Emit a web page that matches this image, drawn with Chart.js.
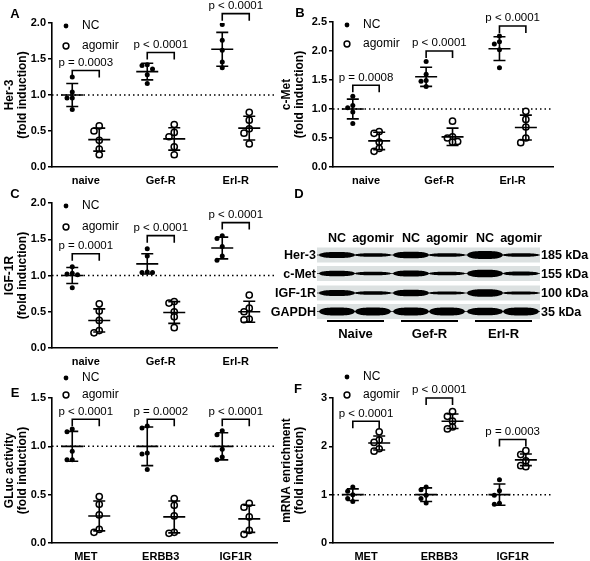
<!DOCTYPE html>
<html>
<head>
<meta charset="utf-8">
<script src="https://cdn.jsdelivr.net/npm/chart.js@4.4.1/dist/chart.umd.min.js"></script>
<style>
  body { margin: 0; background: #fff; }
  #fig { position: relative; width: 590px; height: 561px; overflow: hidden; font-family: "Liberation Sans", Arial, sans-serif; color: #000; }
  #fig canvas { position: absolute; }
  .t { position: absolute; font-weight: bold; white-space: nowrap; line-height: 1; }
  .c { transform: translate(-50%, -50%); }
  .r { transform: translate(-100%, -50%); }
  .l { transform: translate(0, -50%); }
  .letter { font-size: 13px; }
  .blot { font-size: 12.5px; }
  .uline { position: absolute; height: 2px; background: #000; }
</style>
</head>
<body>
<div id="fig">
  <canvas id="pA" width="295" height="190" style="left:0;top:0"></canvas>
  <canvas id="pB" width="320" height="190" style="left:270px;top:0"></canvas>
  <canvas id="pC" width="295" height="190" style="left:0;top:185px"></canvas>
  <canvas id="pE" width="295" height="191" style="left:0;top:370px"></canvas>
  <canvas id="pF" width="320" height="191" style="left:270px;top:370px"></canvas>
  <canvas id="blot" width="223" height="76" style="left:317px;top:246px"></canvas>

  <div class="t c letter" style="left:15px;top:13px">A</div>
  <div class="t c letter" style="left:300px;top:12px">B</div>
  <div class="t c letter" style="left:15px;top:193px">C</div>
  <div class="t c letter" style="left:299px;top:193px">D</div>
  <div class="t c letter" style="left:15px;top:392px">E</div>
  <div class="t c letter" style="left:298px;top:388px">F</div>
  <div id="blotText"></div>
</div>

<script>
const cellLines = ["naive", "Gef-R", "Erl-R"];
const genes = ["MET", "ERBB3", "IGF1R"];

// A - Her-3
const her3NC = [[1.25, 1.04, 0.96, 0.96, 0.80], [1.42, 1.41, 1.36, 1.28, 1.16], [1.98, 1.76, 1.62, 1.46, 1.38]];
const her3Ago = [[0.57, 0.50, 0.37, 0.25, 0.17], [0.59, 0.48, 0.42, 0.28, 0.17], [0.76, 0.65, 0.53, 0.47, 0.32]];
const her3MeanNC = [1.00, 1.325, 1.635];
const her3SdNC = [0.16, 0.115, 0.235];
const her3MeanAgo = [0.38, 0.39, 0.54];
const her3SdAgo = [0.16, 0.155, 0.165];
const her3Bracket = [1.34, 1.59, 2.13];
const her3P = ["p = 0.0003", "p < 0.0001", "p < 0.0001"];

// B - c-Met
const cmetNC = [[1.22, 1.06, 1.02, 0.95, 0.75], [1.82, 1.60, 1.49, 1.48, 1.39], [2.26, 2.16, 2.12, 2.02, 1.71]];
const cmetAgo = [[0.61, 0.58, 0.43, 0.32, 0.27], [0.79, 0.52, 0.50, 0.44, 0.43], [0.96, 0.82, 0.69, 0.50, 0.42]];
const cmetMeanNC = [1.00, 1.555, 2.04];
const cmetSdNC = [0.17, 0.165, 0.205];
const cmetMeanAgo = [0.45, 0.52, 0.68];
const cmetSdAgo = [0.15, 0.15, 0.215];
const cmetBracket = [1.41, 2.0, 2.43];
const cmetP = ["p = 0.0008", "p < 0.0001", "p < 0.0001"];

// C - IGF-1R
const igfNC = [[1.12, 1.03, 1.02, 1.01, 0.83], [1.37, 1.27, 1.05, 1.04, 1.04], [1.55, 1.51, 1.40, 1.27, 1.21]];
const igfAgo = [[0.61, 0.51, 0.38, 0.24, 0.21], [0.64, 0.62, 0.50, 0.43, 0.28], [0.73, 0.55, 0.50, 0.40, 0.39]];
const igfMeanNC = [1.00, 1.16, 1.38];
const igfSdNC = [0.11, 0.14, 0.15];
const igfMeanAgo = [0.38, 0.49, 0.50];
const igfSdAgo = [0.16, 0.15, 0.145];
const igfBracket = [1.30, 1.55, 1.73];
const igfP = ["p = 0.0001", "p < 0.0001", "p < 0.0001"];

// E - GLuc activity
const glucNC = [[1.18, 1.15, 0.95, 0.86, 0.86], [1.21, 1.19, 0.93, 0.92, 0.76], [1.16, 1.12, 0.97, 0.89, 0.86]];
const glucAgo = [[0.48, 0.40, 0.29, 0.14, 0.11], [0.46, 0.39, 0.28, 0.11, 0.10], [0.41, 0.37, 0.27, 0.13, 0.09]];
const glucMeanNC = [1.00, 1.00, 1.00];
const glucSdNC = [0.155, 0.20, 0.14];
const glucMeanAgo = [0.28, 0.27, 0.25];
const glucSdAgo = [0.155, 0.165, 0.14];
const glucBracket = [1.28, 1.28, 1.28];
const glucP = ["p < 0.0001", "p = 0.0002", "p < 0.0001"];

// F - mRNA enrichment
const mrnaNC = [[1.16, 1.07, 1.00, 0.92, 0.86], [1.16, 1.10, 0.99, 0.92, 0.83], [1.31, 1.08, 0.99, 0.82, 0.80]];
const mrnaAgo = [[2.30, 2.13, 2.08, 1.95, 1.90], [2.72, 2.62, 2.52, 2.40, 2.36], [1.91, 1.83, 1.70, 1.60, 1.58]];
const mrnaMeanNC = [1.00, 1.00, 1.00];
const mrnaSdNC = [0.12, 0.14, 0.22];
const mrnaMeanAgo = [2.07, 2.52, 1.72];
const mrnaSdAgo = [0.145, 0.15, 0.12];
const mrnaBracket = [2.52, 3.0, 2.14];
const mrnaP = ["p < 0.0001", "p < 0.0001", "p = 0.0003"];

// D - western blot
const blotRows = ["Her-3", "c-Met", "IGF-1R", "GAPDH"];
const blotSizes = ["185 kDa", "155 kDa", "100 kDa", "35 kDa"];
const blotLanes = ["NC", "agomir", "NC", "agomir", "NC", "agomir"];
const blotGroups = ["Naive", "Gef-R", "Erl-R"];
const bandHer3 = [6, 3.5, 6.5, 3.5, 8, 3.5];
const bandCmet = [5.5, 3.5, 6, 3.5, 7.5, 4];
const bandIgf = [6, 3.5, 6.5, 3, 7.5, 3];
const bandGapdh = [8, 8, 8, 8, 7.5, 8];

const FONT = '"Liberation Sans", Arial, sans-serif';
Chart.defaults.font.family = FONT;
Chart.defaults.color = "#000";
const OFF = 0.18;

function spread(vals, range) {
  const used = [];
  return vals.map(v => {
    for (const k of [0, -1, 1, -2, 2]) {
      if (!used.some(u => u.k === k && Math.abs(u.v - v) < range * 0.035)) {
        used.push({ v, k });
        return k * 0.07;
      }
    }
    return 0;
  });
}

function points(groups, side, range) {
  return groups.flatMap((vals, i) => {
    const jit = spread(vals, range);
    return vals.map((v, j) => ({ x: i + side + jit[j], y: v }));
  });
}

const marks = {
  id: "marks",
  beforeDatasetsDraw(chart) {
    const { ctx, chartArea: a, scales: { y } } = chart;
    const py = y.getPixelForValue(1);
    ctx.save();
    ctx.strokeStyle = "#000";
    ctx.lineWidth = 1.5;
    ctx.setLineDash([1.5, 3]);
    ctx.beginPath();
    ctx.moveTo(a.left, py);
    ctx.lineTo(a.right, py);
    ctx.stroke();
    ctx.restore();
  },
  afterDatasetsDraw(chart, args, o) {
    const { ctx, scales: { x, y } } = chart;
    ctx.save();
    ctx.strokeStyle = "#000";
    ctx.fillStyle = "#000";
    ctx.lineWidth = 1.6;
    const bar = (cx, m, s) => {
      const px = x.getPixelForValue(cx);
      const pm = y.getPixelForValue(m);
      const pt = y.getPixelForValue(m + s);
      const pb = y.getPixelForValue(m - s);
      ctx.beginPath();
      ctx.moveTo(px - 11, pm); ctx.lineTo(px + 11, pm);
      ctx.moveTo(px, pt); ctx.lineTo(px, pb);
      ctx.moveTo(px - 6, pt); ctx.lineTo(px + 6, pt);
      ctx.moveTo(px - 6, pb); ctx.lineTo(px + 6, pb);
      ctx.stroke();
    };
    o.meanNC.forEach((m, i) => bar(i - OFF, m, o.sdNC[i]));
    o.meanAgo.forEach((m, i) => bar(i + OFF, m, o.sdAgo[i]));

    ctx.font = "11.5px " + FONT;
    ctx.textAlign = "center";
    ctx.textBaseline = "bottom";
    o.bracket.forEach((b, i) => {
      const x1 = x.getPixelForValue(i - OFF);
      const x2 = x.getPixelForValue(i + OFF);
      const py = y.getPixelForValue(b);
      ctx.beginPath();
      ctx.moveTo(x1, py + 7); ctx.lineTo(x1, py); ctx.lineTo(x2, py); ctx.lineTo(x2, py + 7);
      ctx.stroke();
      ctx.fillText(o.pText[i], (x1 + x2) / 2, py - 2);
    });

    // legend
    const lg = o.legend;
    ctx.beginPath();
    ctx.arc(lg.x, lg.y1, 2.4, 0, Math.PI * 2);
    ctx.fill();
    ctx.lineWidth = 1.5;
    ctx.beginPath();
    ctx.arc(lg.x, lg.y2, 2.9, 0, Math.PI * 2);
    ctx.stroke();
    ctx.font = "12px " + FONT;
    ctx.textAlign = "left";
    ctx.textBaseline = "middle";
    ctx.fillText("NC", lg.x + 16, lg.y1);
    ctx.fillText("agomir", lg.x + 16, lg.y2);
    ctx.restore();
  }
};

function panel(id, p) {
  const cv = document.getElementById(id);
  const W = cv.width, H = cv.height;
  new Chart(cv, {
    type: "scatter",
    data: {
      datasets: [
        {
          label: "NC",
          data: points(p.nc, -OFF, p.max),
          pointRadius: 2.5,
          pointBackgroundColor: "#000",
          pointBorderWidth: 0
        },
        {
          label: "agomir",
          data: points(p.ago, OFF, p.max),
          pointRadius: 3.1,
          pointBackgroundColor: "#fff",
          pointBorderColor: "#000",
          pointBorderWidth: 1.5
        }
      ]
    },
    options: {
      responsive: false,
      animation: false,
      devicePixelRatio: 1,
      layout: { padding: { left: 0, top: p.area.T, right: W - p.area.R, bottom: 0 } },
      plugins: {
        legend: { display: false },
        tooltip: { enabled: false },
        marks: {
          meanNC: p.meanNC, sdNC: p.sdNC, meanAgo: p.meanAgo, sdAgo: p.sdAgo,
          bracket: p.bracket, pText: p.pText, legend: p.legend
        }
      },
      scales: {
        x: {
          type: "linear",
          min: -0.45,
          max: 2.55,
          afterBuildTicks: s => { s.ticks = p.labels.map((l, i) => ({ value: i })); },
          afterFit: s => { s.height = H - p.area.B; },
          grid: { display: false, drawTicks: false },
          border: { display: true, color: "#000", width: 1.6 },
          ticks: {
            autoSkip: false,
            maxRotation: 0,
            padding: 7,
            font: { size: 11, weight: "bold" },
            callback: (v, i) => p.labels[i]
          }
        },
        y: {
          min: 0,
          max: p.max,
          afterFit: s => { s.width = p.area.L; },
          grid: { display: true, drawOnChartArea: false, drawTicks: true, tickLength: 4, color: "#000", lineWidth: 1.5 },
          border: { display: true, color: "#000", width: 1.6 },
          ticks: {
            stepSize: p.step,
            padding: 2,
            font: { size: 11, weight: "bold" },
            callback: v => v.toFixed(p.dec)
          },
          title: {
            display: true,
            text: p.title,
            font: { size: 12, weight: "bold", lineHeight: 1.08 },
            padding: { top: p.titlePad, bottom: 0 }
          }
        }
      }
    },
    plugins: [marks]
  });
}

panel("pA", {
  labels: cellLines, nc: her3NC, ago: her3Ago, meanNC: her3MeanNC, sdNC: her3SdNC,
  meanAgo: her3MeanAgo, sdAgo: her3SdAgo, bracket: her3Bracket, pText: her3P,
  max: 2, step: 0.5, dec: 1, title: ["Her-3", "(fold induction)"], titlePad: 3.5,
  area: { L: 52, R: 277, T: 23, B: 167 }, legend: { x: 66, y1: 26, y2: 46 }
});
panel("pB", {
  labels: cellLines, nc: cmetNC, ago: cmetAgo, meanNC: cmetMeanNC, sdNC: cmetSdNC,
  meanAgo: cmetMeanAgo, sdAgo: cmetSdAgo, bracket: cmetBracket, pText: cmetP,
  max: 2.5, step: 0.5, dec: 1, title: ["c-Met", "(fold induction)"], titlePad: 10.5,
  area: { L: 63, R: 283, T: 22, B: 167 }, legend: { x: 77, y1: 25, y2: 44 }
});
panel("pC", {
  labels: cellLines, nc: igfNC, ago: igfAgo, meanNC: igfMeanNC, sdNC: igfSdNC,
  meanAgo: igfMeanAgo, sdAgo: igfSdAgo, bracket: igfBracket, pText: igfP,
  max: 2, step: 0.5, dec: 1, title: ["IGF-1R", "(fold induction)"], titlePad: 3.5,
  area: { L: 52, R: 277, T: 18, B: 163 }, legend: { x: 66, y1: 21, y2: 42 }
});
panel("pE", {
  labels: genes, nc: glucNC, ago: glucAgo, meanNC: glucMeanNC, sdNC: glucSdNC,
  meanAgo: glucMeanAgo, sdAgo: glucSdAgo, bracket: glucBracket, pText: glucP,
  max: 1.5, step: 0.5, dec: 1, title: ["GLuc activity", "(fold induction)"], titlePad: 3.5,
  area: { L: 52, R: 277, T: 28, B: 173 }, legend: { x: 66, y1: 8, y2: 25 }
});
panel("pF", {
  labels: genes, nc: mrnaNC, ago: mrnaAgo, meanNC: mrnaMeanNC, sdNC: mrnaSdNC,
  meanAgo: mrnaMeanAgo, sdAgo: mrnaSdAgo, bracket: mrnaBracket, pText: mrnaP,
  max: 3, step: 1, dec: 0, title: ["mRNA enrichment", "(fold induction)"], titlePad: 10.5,
  area: { L: 63, R: 283, T: 28, B: 173 }, legend: { x: 77, y1: 7, y2: 25 }
});

// western blot (panel D)
const laneX = [337, 373, 411, 447, 485, 521];
const rowY = [255, 273.5, 293, 311.5];
const bands = [bandHer3, bandCmet, bandIgf, bandGapdh];
const bc = document.getElementById("blot").getContext("2d");
const ox = 317, oy = 246;

function band(cx, cy, w, t) {
  // blunt lens shape, thick centre tapering to the ends
  bc.beginPath();
  const n = 40;
  for (let k = 0; k <= n; k++) {
    const s = -1 + (2 * k) / n;
    const h = (t / 2) * Math.pow(1 - Math.pow(Math.abs(s), 3), 0.5);
    bc[k ? "lineTo" : "moveTo"](cx + s * w / 2, cy - h);
  }
  for (let k = n; k >= 0; k--) {
    const s = -1 + (2 * k) / n;
    const h = (t / 2) * Math.pow(1 - Math.pow(Math.abs(s), 3), 0.5);
    bc.lineTo(cx + s * w / 2, cy + h);
  }
  bc.closePath();
  bc.fill();
}

rowY.forEach((ry, r) => {
  bc.fillStyle = "#dce1e1";
  bc.fillRect(0, ry - 7.5 - oy, 223, 15);
  bc.strokeStyle = "#444";
  bc.lineWidth = 1;
  bc.beginPath();
  bc.moveTo(0, ry - oy);
  bc.lineTo(223, ry - oy);
  bc.stroke();
  bc.fillStyle = "#000";
  bc.filter = "blur(0.4px)";
  bands[r].forEach((t, i) => band(laneX[i] - ox, ry - oy, 36, t));
  bc.filter = "none";
});

const bt = document.getElementById("blotText");
let html = "";
blotLanes.forEach((l, i) => { html += `<div class="t c blot" style="left:${laneX[i]}px;top:238px">${l}</div>`; });
blotRows.forEach((l, i) => { html += `<div class="t r blot" style="left:316px;top:${rowY[i]}px">${l}</div>`; });
blotSizes.forEach((l, i) => { html += `<div class="t l blot" style="left:541px;top:${rowY[i]}px">${l}</div>`; });
blotGroups.forEach((g, i) => {
  const x0 = laneX[i * 2] - 10, x1 = laneX[i * 2 + 1] + 11;
  html += `<div class="uline" style="left:${x0}px;top:320px;width:${x1 - x0}px"></div>`;
  html += `<div class="t c blot" style="left:${(x0 + x1) / 2}px;top:333px;font-size:13px">${g}</div>`;
});
bt.innerHTML = html;
</script>
</body>
</html>
